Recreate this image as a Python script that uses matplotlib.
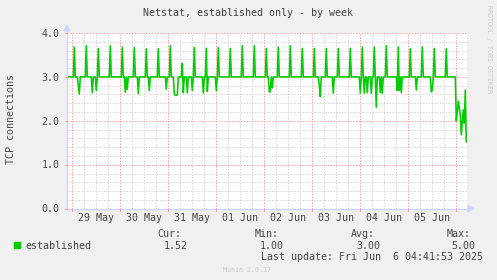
import numpy as np
import matplotlib
matplotlib.use("Agg")
import matplotlib.pyplot as plt
from matplotlib.patches import Polygon, Rectangle
from matplotlib.lines import Line2D

# Munin "netstat established" week graph; time in hours from 29 May 00:00,
# one sample every 30 min
W, H = 497, 280
BACK, GREEN = "#F0F0F0", "#00CC00"
AXIS = "#CFD6F8"
FONT = "#444444"
MONO = "DejaVu Sans Mono"

step_h = 0.5
first_h, last_h = -2.5, 197.0
base = 3.0
spike_hours = [1, 7, 13, 19, 25, 31, 37, 43, 49, 55, 61, 67, 73, 79, 85, 91,
               97, 103, 109, 115, 121, 127, 133, 139, 145, 151, 157, 163, 169,
               175, 181, 187]
spike_vals = [3.68, 3.71, 3.65, 3.71, 3.68, 3.67, 3.64, 3.64, 3.71, 3.31, 3.67,
              3.65, 3.67, 3.65, 3.71, 3.71, 3.65, 3.68, 3.71, 3.65, 3.65, 3.65,
              3.65, 3.65, 3.68, 3.68, 3.71, 3.68, 3.64, 3.68, 3.65, 3.64]
dip_hours = [3.0, 3.5, 10.0, 12.0, 26.5, 27.5, 33.0, 38.5, 47.0, 51.0, 51.5,
             52.0, 52.5, 55.5, 57.5, 60.0, 65.5, 67.5, 72.0, 98.5, 99.0, 100.0,
             123.5, 124.0, 130.5, 144.0, 146.0, 147.5, 149.5, 152.0, 154.0,
             155.0, 162.5, 163.5, 164.5, 172.0, 179.5, 180.0]
dip_vals = [2.8, 2.61, 2.64, 2.69, 2.65, 2.72, 2.62, 2.69, 2.72, 2.62, 2.58,
            2.58, 2.59, 2.64, 2.64, 2.69, 2.63, 2.67, 2.68, 2.66, 2.66, 2.75,
            2.8, 2.55, 2.63, 2.63, 2.63, 2.64, 2.63, 2.31, 2.64, 2.63, 2.69,
            2.69, 2.64, 2.7, 2.66, 2.7]
tail_hours = [192.0, 192.5, 193.0, 193.5, 194.0, 194.5, 195.0, 195.5, 196.0,
              196.5, 197.0]
tail_vals = [2.0, 2.2, 2.45, 2.3, 2.13, 1.68, 2.0, 2.25, 1.95, 2.7, 1.52]

day_labels = ["29 May", "30 May", "31 May", "01 Jun", "02 Jun", "03 Jun",
              "04 Jun", "05 Jun"]
y_ticks = [0.0, 1.0, 2.0, 3.0, 4.0]
legend_heads = ["Cur:", "Min:", "Avg:", "Max:"]
legend_vals = ["1.52", "1.00", "3.00", "5.00"]
last_update = "Last update: Fri Jun  6 04:41:53 2025"

hours = np.arange(first_h, last_h + step_h / 2, step_h)
conns = np.full(len(hours), base)
for hh, vv in list(zip(spike_hours, spike_vals)) + list(zip(dip_hours, dip_vals)) \
        + list(zip(tail_hours, tail_vals)):
    conns[int(round((hh - first_h) / step_h))] = vv


def fx(x):
    return x / W


def fy(y):
    return 1 - y / H


fig = plt.figure(figsize=(W / 100, H / 100), dpi=100, facecolor=BACK)
L, R, T, B = 67, 467, 33, 208.7
ax = fig.add_axes([fx(L), fy(B), (R - L) / W, (B - T) / H], facecolor="white")
x0 = -2.65
ax.set_xlim(x0, x0 + (R - L) * step_h)
ax.set_ylim(0, 4)
for s in ax.spines.values():
    s.set_visible(False)
ax.set_xticks([]); ax.set_yticks([])

# grid: grey dotted minor, red dotted major
dots = (0, (1.4, 1.4))
for y in np.arange(0.2, 4.0, 0.2):
    if abs(y - round(y)) > 0.01:
        ax.axhline(y, color="#D4D4D4", lw=0.72, ls=dots, zorder=1)
for x in np.arange(-0.0, 198, 6):
    if x % 24:
        ax.axvline(x, color="#D4D4D4", lw=0.72, ls=dots, zorder=1)
for y in y_ticks[1:]:
    ax.axhline(y, color="#F4A0A0", lw=0.72, ls=dots, zorder=2)
for x in np.arange(0, 198, 24):
    ax.axvline(x, color="#F4A0A0", lw=0.72, ls=dots, zorder=2)

ax.plot(hours, conns, color=GREEN, lw=1.15, zorder=3)

# axes with arrows
fig.add_artist(Line2D([fx(L), fx(L)], [fy(B + 1), fy(29)], color=AXIS, lw=1.0))
fig.add_artist(Line2D([fx(L - 2), fx(469)], [fy(B), fy(B)], color=AXIS, lw=1.0))
fig.add_artist(Polygon([(fx(L), fy(25)), (fx(L - 3), fy(31)), (fx(L + 3), fy(31))],
                       closed=True, color=AXIS, transform=fig.transFigure))
fig.add_artist(Polygon([(fx(474), fy(B)), (fx(468), fy(B - 3)), (fx(468), fy(B + 3))],
                       closed=True, color=AXIS, transform=fig.transFigure))
for i in range(len(day_labels) + 1):
    px = L + (i * 24 - x0) / step_h
    fig.add_artist(Line2D([fx(px), fx(px)], [fy(B), fy(B + 2.5)], color="#F4A0A0", lw=0.7))

# tick labels
fs = 7.2
for v in y_ticks:
    py = B - v * (B - T) / 4
    fig.text(fx(59.5), fy(py + 3.7), f"{v:.1f}", ha="right", va="baseline",
             family=MONO, fontsize=fs, color=FONT)
    fig.add_artist(Line2D([fx(L - 2.5), fx(L)], [fy(py), fy(py)], color="#F4A0A0", lw=0.7))
for i, lab in enumerate(day_labels):
    px = L + (i * 24 + 12 - x0) / step_h
    fig.text(fx(px), fy(221), lab, ha="center", va="baseline",
             family=MONO, fontsize=fs, color=FONT)

fig.text(fx(248), fy(16.3), "Netstat, established only - by week", ha="center",
         va="baseline", family=MONO, fontsize=fs, color=FONT)
fig.text(fx(11), fy(119.5), "TCP connections", rotation=90, ha="center",
         va="center", family=MONO, fontsize=fs, color=FONT)
fig.text(fx(489), fy(5), "RRDTOOL / TOBI OETIKER", rotation=270, ha="center",
         va="top", family=MONO, fontsize=4.8, color="#CCCCCC")

# legend
fig.add_artist(Rectangle((fx(14), fy(247.7)), 6 / W, 5.5 / H, color=GREEN,
                         transform=fig.transFigure))
fig.text(fx(25.7), fy(249), "established", ha="left", va="baseline",
         family=MONO, fontsize=fs, color=FONT)
for hx, vx, hd, vl in zip([157.3, 255, 350.7, 446.7], [164, 260, 356, 451.7],
                          legend_heads, legend_vals):
    fig.text(fx(hx), fy(237.3), hd, ha="left", va="baseline", family=MONO,
             fontsize=fs, color=FONT)
    fig.text(fx(vx), fy(249), vl, ha="left", va="baseline", family=MONO,
             fontsize=fs, color=FONT)
fig.text(fx(260.7), fy(260.5), last_update, ha="left", va="baseline",
         family=MONO, fontsize=fs, color=FONT)
fig.text(fx(223.3), fy(272.3), "Munin 2.0.37", ha="left", va="baseline",
         family=MONO, fontsize=4.8, color="#C8C8C8")

fig.savefig("out.png", dpi=100, facecolor=BACK)
